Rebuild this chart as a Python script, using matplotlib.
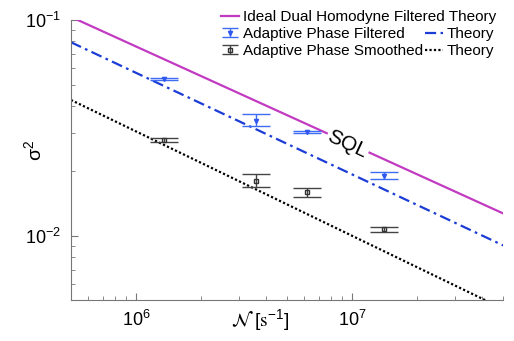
import numpy as np
import matplotlib
matplotlib.use("Agg")
import matplotlib.pyplot as plt
from matplotlib.ticker import LogLocator, NullFormatter
from matplotlib.legend_handler import HandlerErrorbar
from matplotlib.lines import Line2D

plt.rcParams['font.family'] = ['Liberation Sans', 'DejaVu Sans']
plt.rcParams['mathtext.default'] = 'regular'

# photon flux N [s^-1]
N_data = [1.35e6, 3.6e6, 6.2e6, 1.41e7]

# adaptive phase filtered (blue), with error bar ends
filt_var = [0.0533, 0.0341, 0.0303, 0.0190]
filt_lo = [0.0527, 0.0323, 0.0300, 0.0184]
filt_hi = [0.0539, 0.0367, 0.0306, 0.0198]

# adaptive phase smoothed (black)
smooth_var = [0.0278, 0.0180, 0.0160, 0.0108]
smooth_lo = [0.0272, 0.0169, 0.0152, 0.01045]
smooth_hi = [0.0284, 0.0194, 0.0167, 0.0110]

# theory curves (straight lines on log-log, end points)
N_theory = [5e5, 5e7]
ideal_theory = [0.1035, 0.01274]
filt_theory = [0.0790, 0.00906]
smooth_theory = [0.0427, 0.00461]

fig = plt.figure(figsize=(5.14, 3.41), dpi=100)
ax = fig.add_axes([0.138, 0.12, 0.841, 0.821])

l_ideal, = ax.plot(N_theory, ideal_theory, color='#c23ac2', lw=1.6)
l_ft, = ax.plot(N_theory, filt_theory, color='#1c3cd6', lw=1.6, ls=(0, (5, 2, 1.2, 2)))
l_st, = ax.plot(N_theory, smooth_theory, color='black', lw=1.6, ls=(0, (1, 1)))

fe = [np.array(filt_var) - np.array(filt_lo), np.array(filt_hi) - np.array(filt_var)]
se = [np.array(smooth_var) - np.array(smooth_lo), np.array(smooth_hi) - np.array(smooth_var)]
e_f = ax.errorbar(N_data, filt_var, yerr=fe, fmt='v', ms=3, color='#3057f0',
                  ecolor='#3f6cf5', elinewidth=1.0, capsize=10, capthick=1.0, mfc='#3057f0')
e_s = ax.errorbar(N_data, smooth_var, yerr=se, fmt='s', ms=3.5, color='#333333',
                  ecolor='#444444', elinewidth=1.0, capsize=10, capthick=1.0, mfc='none')

ax.text(9.5e6, 0.0265, 'SQL', rotation=-25, ha='center', va='center', fontsize=15,
        bbox=dict(fc='white', ec='none', pad=1))

ax.set_xscale('log')
ax.set_yscale('log')
ax.set_xlim(5e5, 5e7)
ax.set_ylim(5.06e-3, 0.1)
ax.xaxis.set_minor_locator(LogLocator(subs=np.arange(2, 10)))
ax.yaxis.set_minor_locator(LogLocator(subs=np.arange(2, 10)))
ax.xaxis.set_minor_formatter(NullFormatter())
ax.yaxis.set_minor_formatter(NullFormatter())

for s in ['top', 'right']:
    ax.spines[s].set_visible(False)
for s in ['left', 'bottom']:
    ax.spines[s].set_color('#777777')
    ax.spines[s].set_linewidth(0.8)
ax.tick_params(which='both', direction='in', color='#777777', labelsize=13)
ax.tick_params(which='major', length=5, pad=7)
ax.tick_params(which='minor', length=3)

ax.set_xlabel(r'$\mathcal{N}\ [\mathrm{s}^{-1}]$', math_fontfamily='stix', fontsize=14)
ax.xaxis.set_label_coords(0.4375, -0.071)
ax.xaxis.label.set_va('center')
ax.set_ylabel(r'$\sigma^2$', math_fontfamily='stix', fontsize=14)
ax.yaxis.set_label_coords(-0.086, 0.536)
ax.yaxis.label.set_va('center')


def small_caps(leg_artist, orig):
    # copy the style, then shrink the error bar caps inside the legend
    leg_artist.update_from(orig)
    if isinstance(leg_artist, Line2D) and leg_artist.get_marker() == '_':
        leg_artist.set_markersize(12)


eb_handler = HandlerErrorbar(xerr_size=0.3, yerr_size=0.3, update_func=small_caps)

fs = 11
leg1 = ax.legend([l_ideal], ['Ideal Dual Homodyne Filtered Theory'], loc='upper left',
                 bbox_to_anchor=(0.430, 0.971), bbox_transform=fig.transFigure,
                 frameon=False, fontsize=fs, borderpad=0, borderaxespad=0,
                 handlelength=1.2, handletextpad=0.25)
ax.add_artist(leg1)
ax.legend([e_f, e_s, l_ft, l_st],
          ['Adaptive Phase Filtered', 'Adaptive Phase Smoothed', 'Theory', 'Theory'],
          ncol=2, loc='upper left', bbox_to_anchor=(0.430, 0.921),
          bbox_transform=fig.transFigure, frameon=False, fontsize=fs, borderpad=0,
          borderaxespad=0, handlelength=1.2, handletextpad=0.25, columnspacing=0.1,
          labelspacing=0.2, handler_map={type(e_f): eb_handler})

fig.savefig('out.png', dpi=100)
